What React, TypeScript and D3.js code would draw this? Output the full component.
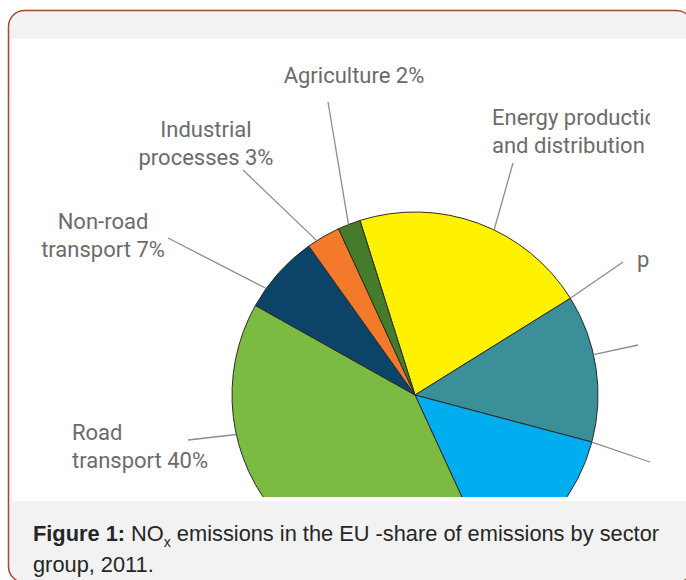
import React from "react";
import * as d3 from "d3";

// ---- data ----
const sectors = [
  "Energy production and distribution",
  "Energy use in industry",
  "Commercial, institutional and households",
  "Road transport",
  "Non-road transport",
  "Industrial processes",
  "Agriculture",
];
const shares = [21, 13, 14, 40, 7, 3, 2];
const sliceColors = ["#fff200", "#3a8f99", "#00adee", "#7cbb41", "#0b4468", "#f37a2b", "#477b2c"];
const labelLines: string[][] = [
  ["Energy production", "and distribution 21%"],
  ["p"],
  [],
  ["Road", "transport 40%"],
  ["Non-road", "transport 7%"],
  ["Industrial", "processes 3%"],
  ["Agriculture 2%"],
];
const captionBold = "Figure 1:";
const captionRest1 = " emissions in the EU -share of emissions by sector";
const captionLine2 = "group, 2011.";

// ---- layout ----
const W = 686;
const H = 580;
const cx = 415;
const cy = 395;
const R = 183;
const startDeg = -17.5;
const labelPos: ({ x: number; y: number; anchor: string } | null)[] = [
  { x: 492, y: 125, anchor: "start" },
  { x: 637, y: 267, anchor: "start" },
  null,
  { x: 72, y: 440, anchor: "start" },
  { x: 103, y: 229, anchor: "middle" },
  { x: 206, y: 137, anchor: "middle" },
  { x: 354, y: 83, anchor: "middle" },
];
const leaders = [
  { slice: 0, at: 0.57, x: 513, y: 163 },
  { slice: 1, at: 0.0, x: 623, y: 262 },
  { slice: 1, at: 0.41, x: 638, y: 345 },
  { slice: 2, at: 0.0, x: 650, y: 462 },
  { slice: 3, at: 0.71, x: 188, y: 440 },
  { slice: 4, at: 0.25, x: 168, y: 238 },
  { slice: 5, at: 0.28, x: 243, y: 170 },
  { slice: 6, at: 0.47, x: 328, y: 102 },
];

export default function App() {
  const data = sectors.map((s, i) => ({ name: s, value: shares[i], color: sliceColors[i] }));
  const start = (startDeg * Math.PI) / 180;
  const pie = d3
    .pie<any>()
    .sort(null)
    .value((d: any) => d.value)
    .startAngle(start)
    .endAngle(start + 2 * Math.PI);
  const arcs = pie(data);
  const arc = d3.arc<any>().innerRadius(0).outerRadius(R);

  return (
    <svg
      width={W}
      height={H}
      style={{ position: "absolute", left: 0, top: 0, background: "#ffffff" }}
    >
      <defs>
        <clipPath id="imgClip">
          <rect x={12} y={39} width={W - 12} height={458} />
        </clipPath>
        <clipPath id="txtClip">
          <rect x={0} y={0} width={650} height={H} />
        </clipPath>
      </defs>
      <rect x={8.5} y={10.5} width={684} height={572} rx={16} fill="#f2f2f2" stroke="#9e4b32" strokeWidth={1.5} />
      <rect x={12} y={39} width={W - 12} height={462} fill="#ffffff" />
      <g clipPath="url(#imgClip)">
        <g transform={`translate(${cx},${cy})`}>
          {arcs.map((a, i) => (
            <path key={i} d={arc(a) as string} fill={a.data.color} stroke="#2b2b2b" strokeWidth={1} strokeLinejoin="round" />
          ))}
        </g>
      </g>
      <g stroke="#8c8c8c" strokeWidth={1.3}>
        {leaders.map((l, i) => {
          const a = arcs[l.slice];
          const ang = a.startAngle + l.at * (a.endAngle - a.startAngle);
          const [px, py] = d3.pointRadial(ang, R);
          return <line key={i} x1={cx + px} y1={cy + py} x2={l.x} y2={l.y} />;
        })}
      </g>
      <g clipPath="url(#txtClip)" fontFamily="Roboto, sans-serif" fontSize={22} fill="#6b6b6b">
        {labelLines.map((lines, i) => {
          const p = labelPos[i];
          if (!p) return null;
          return (
            <text key={i} x={p.x} y={p.y} textAnchor={p.anchor}>
              {lines.map((t, j) => (
                <tspan key={j} x={p.x} dy={j === 0 ? 0 : 27.5}>
                  {t}
                </tspan>
              ))}
            </text>
          );
        })}
      </g>
      <g fontFamily="'Liberation Sans', Arial, sans-serif" fontSize={21.8} fill="#262626">
        <text x={33} y={541}>
          <tspan fontWeight="bold">{captionBold}</tspan>
          <tspan> NO</tspan>
          <tspan fontSize={14} dy={6}>x</tspan>
          <tspan dy={-6}>{captionRest1}</tspan>
        </text>
        <text x={33} y={572}>{captionLine2}</text>
      </g>
    </svg>
  );
}
